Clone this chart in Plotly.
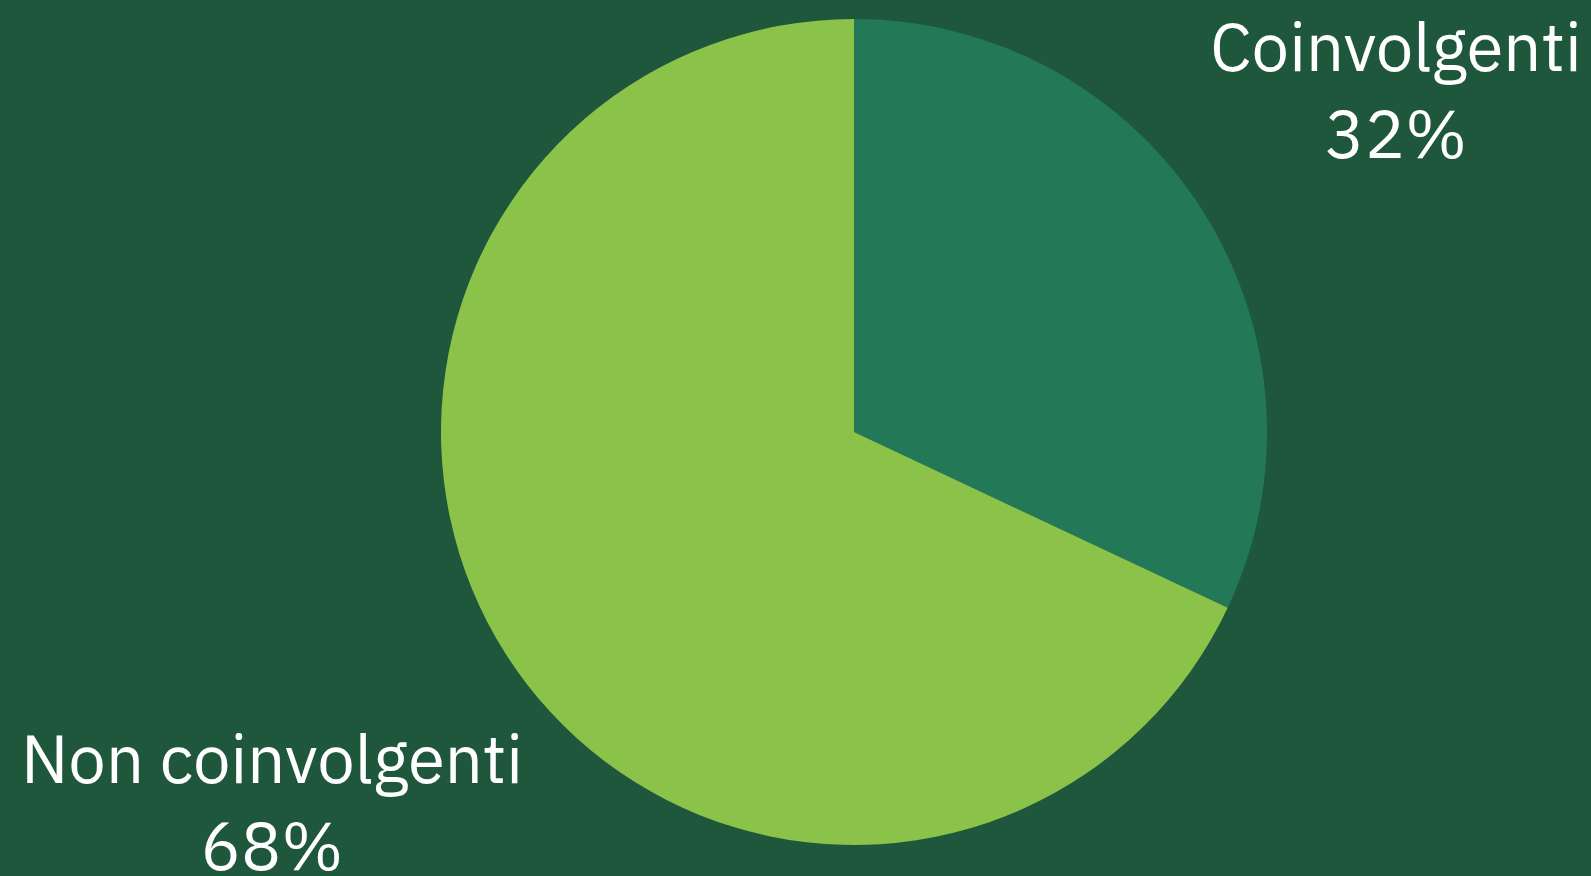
import plotly.graph_objects as go

categories = ["Coinvolgenti", "Non coinvolgenti"]
values = [32, 68]
colors = ["#227857", "#8bc34a"]

W, H = 1591, 876
cx, cy, r = 854, 432, 413
fig = go.Figure(go.Pie(
    labels=categories,
    values=values,
    sort=False,
    direction="clockwise",
    rotation=0,
    marker=dict(colors=colors, line=dict(width=0)),
    textinfo="none",
    hoverinfo="label+percent",
    showlegend=False,
    domain=dict(x=[(cx - r) / W, (cx + r) / W], y=[(H - cy - r) / H, (H - cy + r) / H]),
))

total = sum(values)
label_pos = [(1396 / W, 1.0), (272 / W, 1 - 712 / H)]
for cat, v, (px, py) in zip(categories, values, label_pos):
    fig.add_annotation(
        x=px, y=py, xref="paper", yref="paper",
        xanchor="center", yanchor="top",
        text=f"{cat}<br>{round(100 * v / total)}%",
        showarrow=False,
        font=dict(family="IBM Plex Sans, Noto Sans, sans-serif", size=67, color="white"),
    )

fig.update_layout(
    width=W, height=H,
    margin=dict(l=0, r=0, t=0, b=0),
    paper_bgcolor="#1e573c",
    plot_bgcolor="#1e573c",
)

fig.write_html(
    "out.html",
    config={"displayModeBar": False},
    post_script="document.body.style.margin='0';document.body.style.background='#1e573c';",
)
